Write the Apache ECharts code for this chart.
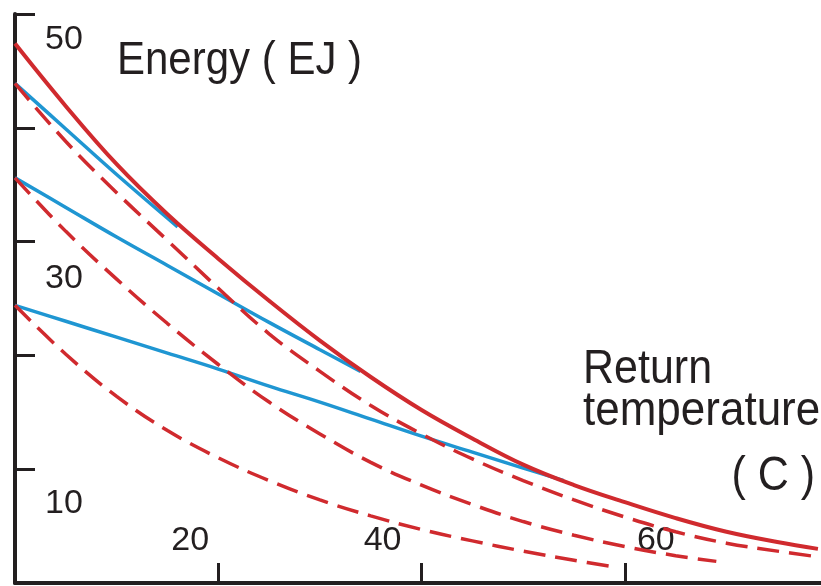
<!DOCTYPE html>
<html>
<head>
<meta charset="utf-8">
<style>
  html, body { margin: 0; padding: 0; background: #fff; }
  #chart { width: 821px; height: 586px; }
</style>
<script src="https://cdn.jsdelivr.net/npm/echarts@6/dist/echarts.min.js"></script>
</head>
<body>
<div id="chart"></div>
<script>
// return temperature (C) sample points
var temps = [0, 5, 10, 15, 20, 25, 30, 35, 40, 45, 50, 55, 60, 65, 70, 75, 79];
// red solid envelope (EJ)
var envelope = [47.4, 41.9, 36.8, 32.4, 28.5, 24.8, 21.3, 18.1, 15.2, 12.7, 10.4, 8.6, 7.1, 5.7, 4.5, 3.6, 3.0];
// red dashed curves
var dashA = [43.9, 38.8, 34.3, 30.1, 25.9, 21.9, 18.6, 15.6, 13.1, 10.9, 9.0, 7.3, 5.8, 4.5, 3.5, 2.8, 2.3];
var dashBTemps = [0, 5, 10, 15, 20, 25, 30, 35, 40, 45, 50, 55, 60, 65, 69];
var dashB = [35.6, 30.9, 26.7, 22.8, 19.2, 15.9, 13.1, 10.6, 8.6, 6.9, 5.4, 4.2, 3.2, 2.4, 1.9];
var dashCTemps = [0, 5, 10, 15, 20, 25, 30, 35, 40, 45, 50, 55, 59];
var dashC = [24.4, 20.1, 16.4, 13.4, 11.0, 9.0, 7.3, 5.9, 4.7, 3.7, 2.8, 2.0, 1.4];
// blue lines
var blueATemps = [0, 5, 10, 16];
var blueA = [43.9, 39.9, 35.9, 31.3];
var blueBTemps = [0, 5, 10, 15, 20, 25, 30, 34];
var blueB = [35.6, 33.0, 30.4, 27.9, 25.4, 22.9, 20.5, 18.6];
var blueCTemps = [0, 5, 10, 15, 20, 25, 30, 35, 40, 45, 50, 54];
var blueC = [24.4, 23.0, 21.6, 20.2, 18.8, 17.3, 15.9, 14.4, 12.9, 11.5, 10.1, 9.0];

var xTicks = [20, 40, 60];
var yLabels = [10, 30, 50];

var ink = '#231f20';
var red = '#d02a2e';
var blue = '#1f96d2';
var font = "'Liberation Sans', Arial, sans-serif";

function pair(xs, ys) {
  return xs.map(function (x, i) { return [x, ys[i]]; });
}

function tok(pad) {
  return { padding: pad, fontSize: 34, fontFamily: font, color: ink };
}

function line(name, xs, ys, color, width, dashed) {
  return {
    name: name,
    type: 'line',
    data: pair(xs, ys),
    smooth: 0.4,
    showSymbol: false,
    silent: true,
    lineStyle: { color: color, width: width, type: dashed ? [22, 10] : 'solid' }
  };
}

function label(text, x, y, size, align) {
  return {
    type: 'text', x: x, y: y, scaleY: 1.1,
    style: { text: text, font: size + "px 'Liberation Sans', Arial, sans-serif", fill: ink, textAlign: align, textVerticalAlign: 'middle' }
  };
}

var myChart = echarts.init(document.getElementById('chart'));
var option = {
  backgroundColor: '#fff',
  animation: false,
  grid: { left: 15, right: 0, top: 14, bottom: 3, outerBoundsMode: 'none' },
  xAxis: {
    type: 'value',
    min: 0,
    max: 79.3,
    interval: 20,
    splitLine: { show: false },
    axisLine: { lineStyle: { color: ink, width: 4 } },
    axisTick: { inside: true, length: 20, customValues: xTicks, lineStyle: { color: ink, width: 3 } },
    axisLabel: {
      inside: true,
      margin: 42,
      customValues: xTicks,
      verticalAlign: 'middle',
      fontSize: 34,
      fontFamily: font,
      color: ink,
      formatter: function (v) { return '{x' + v + '|' + v + '}'; },
      rich: {
        x20: tok([0, 56, 0, 0]),
        x40: tok([0, 78, 0, 0]),
        x60: tok([0, 0, 0, 62])
      }
    }
  },
  yAxis: {
    type: 'value',
    min: 0,
    max: 50,
    interval: 10,
    splitLine: { show: false },
    axisLine: { show: true, lineStyle: { color: ink, width: 4 } },
    axisTick: { show: true, inside: true, length: 20, lineStyle: { color: ink, width: 3 } },
    axisLabel: {
      inside: true,
      margin: 30,
      customValues: yLabels,
      verticalAlign: 'middle',
      fontSize: 34,
      fontFamily: font,
      color: ink,
      formatter: function (v) { return '{y' + v + '|' + v + '}'; },
      rich: {
        y50: tok([51, 0, 0, 0]),
        y30: tok([74, 0, 0, 0]),
        y10: tok([68, 0, 0, 0])
      }
    }
  },
  graphic: [
    label('Energy ( EJ )', 117, 61, 42, 'left'),
    label('Return', 583, 370, 43, 'left'),
    label('temperature', 583, 412, 44, 'left'),
    label('( C )', 815, 477, 43, 'right')
  ],
  series: [
    line('blue A', blueATemps, blueA, blue, 3.5, false),
    line('blue B', blueBTemps, blueB, blue, 3.5, false),
    line('blue C', blueCTemps, blueC, blue, 3.5, false),
    line('dash A', temps, dashA, red, 3.5, true),
    line('dash B', dashBTemps, dashB, red, 3.5, true),
    line('dash C', dashCTemps, dashC, red, 3.5, true),
    line('envelope', temps, envelope, red, 4, false)
  ]
};
myChart.setOption(option);
</script>
</body>
</html>
